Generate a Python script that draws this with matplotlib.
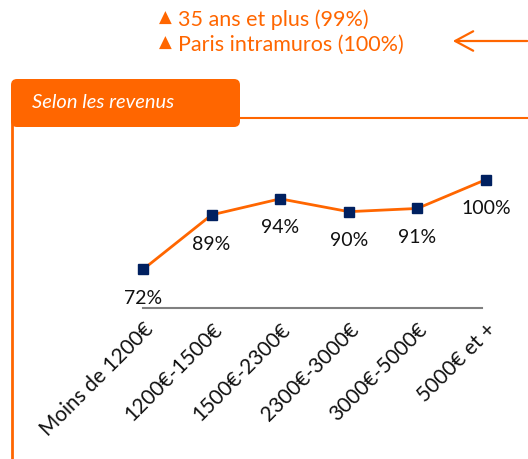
import matplotlib
matplotlib.use("Agg")
from matplotlib import pyplot as plt
from matplotlib.patches import FancyBboxPatch

# data
categories = ["Moins de 1200€", "1200€-1500€", "1500€-2300€",
              "2300€-3000€", "3000€-5000€", "5000€ et +"]
values = [72, 89, 94, 90, 91, 100]
labels = ["72%", "89%", "94%", "90%", "91%", "100%"]
notes = ["35 ans et plus (99%)", "Paris intramuros (100%)"]
title = "Selon les revenus"

orange = "#FF6600"
navy = "#002060"

W, H = 528, 459
fig = plt.figure(figsize=(W / 100, H / 100), dpi=100)

# decoration layer in pixel coords
deco = fig.add_axes([0, 0, 1, 1])
deco.set_xlim(0, W)
deco.set_ylim(H, 0)
deco.axis("off")

# notes at the top
for i, note in enumerate(notes):
    y = 20 + i * 25
    deco.text(159, y - 2, "▲", color=orange, fontsize=12, va="center",
              family="DejaVu Sans")
    deco.text(178, y, note, color=orange, fontsize=15.5, va="center",
              family="Lato")
deco.annotate("", xy=(450, 41), xytext=(530, 41),
              arrowprops=dict(arrowstyle="->,head_length=1.3,head_width=0.7",
                              color=orange, lw=1.6, mutation_scale=10))

# tab with title
tab = FancyBboxPatch((11, 79), 229, 48,
                     boxstyle="round,pad=0,rounding_size=6",
                     facecolor=orange, edgecolor="none")
deco.add_patch(tab)
deco.text(32, 103, title, color="white", fontsize=14.5, style="italic",
          va="center", family="Lato")
deco.plot([240, W], [118, 118], color=orange, lw=1.5)
deco.plot([12, 12], [118, H], color=orange, lw=2)

# chart
ax = fig.add_axes([143 / W, (H - 308) / H, 343 / W, 144.5 / H])
x = list(range(len(categories)))
ax.plot(x, values, color=orange, lw=2, marker="s", markersize=6.5,
        markerfacecolor=navy, markeredgecolor=navy, clip_on=False, zorder=3)
for xi, v, lab in zip(x, values, labels):
    ax.annotate(lab, (xi, v), xytext=(0, -21), textcoords="offset points",
                ha="center", va="center", fontsize=14, family="Lato",
                color="#111111")

ax.set_xlim(0, 5)
ax.set_ylim(60, 105)
ax.set_xticks(x)
ax.set_xticklabels(categories, rotation=45, ha="right",
                   rotation_mode="anchor", fontsize=15, family="Lato",
                   color="#111111")
ax.tick_params(axis="x", length=0, pad=8)
ax.set_yticks([])
for s in ["top", "left", "right"]:
    ax.spines[s].set_visible(False)
ax.spines["bottom"].set_color("#808080")
ax.spines["bottom"].set_linewidth(1.5)
ax.spines["bottom"].set_bounds(0, 4.94)
ax.patch.set_alpha(0)

plt.savefig("out.png", dpi=100)
